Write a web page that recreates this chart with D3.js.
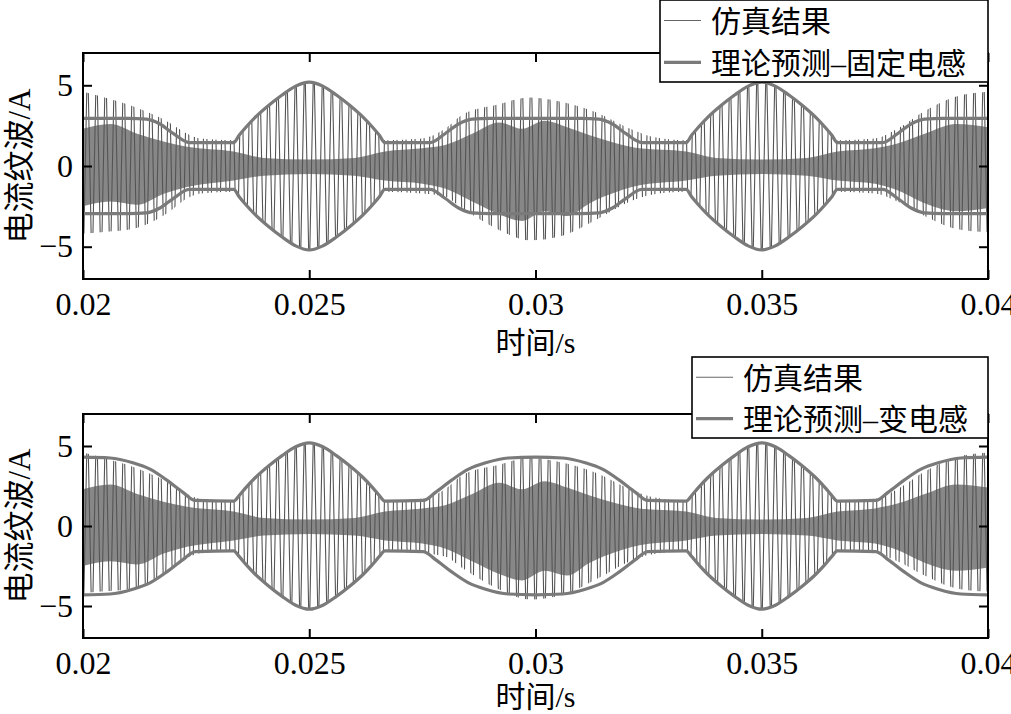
<!DOCTYPE html>
<html>
<head>
<meta charset="utf-8">
<script src="https://cdn.jsdelivr.net/npm/d3@7"></script>
<style>
   body { margin: 0; background: #fff; }
   .tick text { font-family: "Liberation Serif", "Times New Roman", serif; font-size: 32px; fill: #000; }
   .cjk { font-family: "Liberation Serif", "Noto Sans CJK SC", serif; font-size: 30px; fill: #000; }
   .ylab { font-size: 31px; }
</style>
</head>
<body>
<svg id="chart" width="1011" height="714"></svg>
<script>
var timeTicks = [0.02, 0.025, 0.03, 0.035, 0.04];
var currentTicks = [-5, 0, 5];

// switching period of the ripple (s)
var switchPeriod = 0.0001;

// theoretical ripple amplitude, fixed inductance (A)
var fixedT = [0.0200, 0.0210, 0.0214, 0.0217, 0.0220, 0.02235, 0.02333, 0.02345, 0.0236, 0.0238, 0.0241, 0.0244, 0.0247, 0.0250,
   0.0253, 0.0256, 0.0259, 0.0262, 0.0264, 0.02655, 0.02667, 0.02767, 0.0280, 0.0283, 0.0286, 0.0290,
   0.0310, 0.0314, 0.0317, 0.0320, 0.03235, 0.03333, 0.03345, 0.0336, 0.0338, 0.0341, 0.0344, 0.0347, 0.0350,
   0.0353, 0.0356, 0.0359, 0.0362, 0.0364, 0.03655, 0.03667, 0.03767, 0.0380, 0.0383, 0.0386, 0.0390, 0.0400];
var fixedAmp = [2.95, 2.95, 2.9, 2.6, 2.0, 1.45, 1.45, 1.9, 2.4, 3.0, 3.75, 4.4, 4.95, 5.2,
   4.95, 4.4, 3.75, 3.0, 2.4, 1.9, 1.45, 1.45, 2.0, 2.6, 2.9, 2.95,
   2.95, 2.9, 2.6, 2.0, 1.45, 1.45, 1.9, 2.4, 3.0, 3.75, 4.4, 4.95, 5.2,
   4.95, 4.4, 3.75, 3.0, 2.4, 1.9, 1.45, 1.45, 2.0, 2.6, 2.9, 2.95, 2.95];

// theoretical ripple amplitude, variable inductance (A)
var varT = [0.0200, 0.0206, 0.0211, 0.02148, 0.02186, 0.02221, 0.02248, 0.02333, 0.02345, 0.0236, 0.0238, 0.0241, 0.0244, 0.0247, 0.0250,
   0.0253, 0.0256, 0.0259, 0.0262, 0.0264, 0.02655, 0.02667, 0.02752, 0.02779, 0.02814, 0.02852, 0.0289, 0.0294, 0.0300,
   0.0306, 0.0311, 0.03148, 0.03186, 0.03221, 0.03248, 0.03333, 0.03345, 0.0336, 0.0338, 0.0341, 0.0344, 0.0347, 0.0350,
   0.0353, 0.0356, 0.0359, 0.0362, 0.0364, 0.03655, 0.03667, 0.03752, 0.03779, 0.03814, 0.03852, 0.0389, 0.0394, 0.0400];
var varAmp = [4.3, 4.25, 3.95, 3.55, 2.85, 2.1, 1.6, 1.55, 1.9, 2.4, 3.0, 3.75, 4.4, 4.95, 5.2,
   4.95, 4.4, 3.75, 3.0, 2.4, 1.9, 1.55, 1.6, 2.1, 2.85, 3.55, 3.95, 4.25, 4.3,
   4.25, 3.95, 3.55, 2.85, 2.1, 1.6, 1.55, 1.9, 2.4, 3.0, 3.75, 4.4, 4.95, 5.2,
   4.95, 4.4, 3.75, 3.0, 2.4, 1.9, 1.55, 1.6, 2.1, 2.85, 3.55, 3.95, 4.25, 4.3];

// simulated ripple: peak envelope (A)
var simT = [0.0200, 0.0204, 0.0211, 0.0219, 0.0223, 0.0226, 0.02333, 0.0236, 0.0238, 0.0241, 0.0244, 0.0247, 0.0250,
   0.0253, 0.0256, 0.0259, 0.0262, 0.0264, 0.02667, 0.0275, 0.0280, 0.0284, 0.02915, 0.02988, 0.03061, 0.03136, 0.03209, 0.03253,
   0.03333, 0.0336, 0.0338, 0.0341, 0.0344, 0.0347, 0.0350, 0.0353, 0.0356, 0.0359, 0.0362, 0.0364, 0.03667,
   0.0375, 0.0380, 0.0386, 0.0393, 0.0400];
var simMax = [4.6, 4.3, 3.7, 2.7, 2.0, 1.7, 1.6, 2.4, 3.0, 3.75, 4.4, 4.95, 5.2,
   4.95, 4.4, 3.75, 3.0, 2.4, 1.6, 1.7, 2.3, 3.2, 3.8, 4.25, 3.95, 3.3, 2.3, 1.85,
   1.6, 2.4, 3.0, 3.75, 4.4, 4.95, 5.2, 4.95, 4.4, 3.75, 3.0, 2.4, 1.6,
   1.7, 2.3, 3.4, 4.3, 4.6];
var simMin = [-4.2, -4.1, -3.9, -2.85, -2.0, -1.7, -1.6, -2.4, -3.0, -3.75, -4.4, -4.95, -5.2,
   -4.95, -4.4, -3.75, -3.0, -2.4, -1.6, -1.7, -1.9, -2.65, -3.9, -4.6, -4.3, -3.3, -2.2, -1.8,
   -1.6, -2.4, -3.0, -3.75, -4.4, -4.95, -5.2, -4.95, -4.4, -3.75, -3.0, -2.4, -1.6,
   -1.7, -2.2, -3.1, -3.9, -4.1];

// simulated ripple: dense dark core (A)
var coreT = [0.0200, 0.0206, 0.0212, 0.0218, 0.0223, 0.02333, 0.0240, 0.0250, 0.0260, 0.02667, 0.0275, 0.0280, 0.0286, 0.0292,
   0.0297, 0.0302, 0.0307, 0.0312, 0.0318, 0.0323, 0.03333, 0.0340, 0.0350, 0.0360, 0.03667, 0.0375, 0.0380, 0.0386, 0.0393, 0.0400];
var coreMax = [2.3, 2.6, 2.0, 1.5, 1.2, 0.9, 0.5, 0.4, 0.5, 0.9, 1.1, 1.3, 2.0, 2.7, 2.3, 2.8, 2.4, 1.9, 1.4, 1.1,
   0.9, 0.5, 0.4, 0.5, 0.9, 1.1, 1.4, 2.0, 2.6, 2.4];
var coreMin = [-2.5, -2.2, -2.4, -1.7, -1.3, -0.9, -0.6, -0.5, -0.6, -0.9, -1.1, -1.4, -2.2, -3.0, -3.4, -2.8, -3.1, -2.3, -1.6, -1.2,
   -0.9, -0.6, -0.5, -0.6, -0.9, -1.1, -1.5, -2.3, -2.8, -2.6];

var legendSim = "仿真结果";

var svg = d3.select("#chart");
var x = d3.scaleLinear().domain([0.02, 0.04]).range([83, 988]);

function zip3(t, a, b) {
   return t.map(function(d, i) { return { t: d, hi: a[i], lo: b[i] }; });
}

function drawPanel(top, bottom, theoryT, theoryAmp, theoryLabel, legend, titleGap) {
   var y = d3.scaleLinear().domain([-7, 7]).range([bottom, top]);
   var id = "p" + top;
   var g = svg.append("g");

   var defs = svg.append("defs");
   defs.append("clipPath").attr("id", id + "-plot")
      .append("rect").attr("x", x(0.02)).attr("y", top).attr("width", x(0.04) - x(0.02)).attr("height", bottom - top);

   var simArea = d3.area()
      .x(function(d) { return x(d.t); })
      .y0(function(d) { return y(d.lo); })
      .y1(function(d) { return y(d.hi); })
      .curve(d3.curveMonotoneX);

   defs.append("clipPath").attr("id", id + "-sim")
      .append("path").attr("d", simArea(zip3(simT, simMax, simMin)));

   var plot = g.append("g").attr("clip-path", "url(#" + id + "-plot)");

   // dark core where the ripple strokes pile up
   plot.append("path")
      .attr("d", simArea(zip3(coreT, coreMax, coreMin)))
      .attr("fill", "#4e4e4e")
      .attr("fill-opacity", 0.68);

   // ripple strokes, one per switching period, cut to the simulated peaks
   var n = Math.round((x.domain()[1] - x.domain()[0]) / switchPeriod);
   var carrier = d3.range(n + 1).map(function(k) { return x.domain()[0] + k * switchPeriod; });
   plot.append("g").attr("clip-path", "url(#" + id + "-sim)")
      .append("path")
      .attr("d", d3.line()
         .x(function(d) { return x(d); })
         .y(function(d, i) { return i % 2 ? y(7) : y(-7); })(carrier))
      .attr("fill", "none")
      .attr("stroke", "#545454")
      .attr("stroke-width", 1.1);

   // theoretical envelope
   var th = theoryT.map(function(d, i) { return { t: d, a: theoryAmp[i] }; });
   [1, -1].forEach(function(s) {
      plot.append("path")
         .attr("d", d3.line()
            .x(function(d) { return x(d.t); })
            .y(function(d) { return y(s * d.a); })
            .curve(d3.curveMonotoneX)(th))
         .attr("fill", "none")
         .attr("stroke", "#7a7a7a")
         .attr("stroke-width", 3.2);
   });

   // axes, ticks inside on all four sides
   var ax = g.append("g");
   ax.append("g").attr("transform", "translate(0," + bottom + ")")
      .call(d3.axisBottom(x).tickValues(timeTicks).tickSize(-9).tickPadding(13).tickFormat(d3.format("")));
   ax.append("g").attr("transform", "translate(0," + top + ")")
      .call(d3.axisTop(x).tickValues(timeTicks).tickSize(-9).tickFormat(""));
   ax.append("g").attr("transform", "translate(" + x(0.02) + ",0)")
      .call(d3.axisLeft(y).tickValues(currentTicks).tickSize(-9).tickPadding(10));
   ax.append("g").attr("transform", "translate(" + x(0.04) + ",0)")
      .call(d3.axisRight(y).tickValues(currentTicks).tickSize(-9).tickFormat(""));
   ax.selectAll(".domain").remove();
   ax.selectAll(".tick line").attr("stroke", "#000").attr("stroke-width", 2);

   g.append("rect")
      .attr("x", x(0.02)).attr("y", top)
      .attr("width", x(0.04) - x(0.02)).attr("height", bottom - top)
      .attr("fill", "none").attr("stroke", "#000").attr("stroke-width", 2);

   g.append("text").attr("class", "cjk ylab")
      .attr("transform", "translate(30," + (top + bottom) / 2 + ") rotate(-90)")
      .attr("text-anchor", "middle")
      .text("电流纹波/A");

   g.append("text").attr("class", "cjk")
      .attr("x", x(0.03)).attr("y", bottom + titleGap)
      .attr("text-anchor", "middle")
      .text("时间/s");

   // legend
   var lg = g.append("g");
   lg.append("rect")
      .attr("x", legend.x).attr("y", legend.y)
      .attr("width", 988 - legend.x).attr("height", legend.h)
      .attr("fill", "#fff").attr("stroke", "#000").attr("stroke-width", 1.6);
   var rows = [
      { label: legendSim, color: "#666", width: 1.1, dy: legend.h * 0.25 },
      { label: theoryLabel, color: "#7a7a7a", width: 3.2, dy: legend.h * 0.76 }
   ];
   rows.forEach(function(r) {
      lg.append("line")
         .attr("x1", legend.x + 4).attr("x2", legend.x + 41)
         .attr("y1", legend.y + r.dy).attr("y2", legend.y + r.dy)
         .attr("stroke", r.color).attr("stroke-width", r.width);
      lg.append("text").attr("class", "cjk")
         .attr("x", legend.x + 51).attr("y", legend.y + r.dy + 11.5)
         .text(r.label);
   });
}

drawPanel(53, 279, fixedT, fixedAmp, "理论预测–固定电感", { x: 660, y: 0, h: 82 }, 74);
drawPanel(414, 638, varT, varAmp, "理论预测–变电感", { x: 692, y: 357, h: 81 }, 69);
</script>
</body>
</html>
